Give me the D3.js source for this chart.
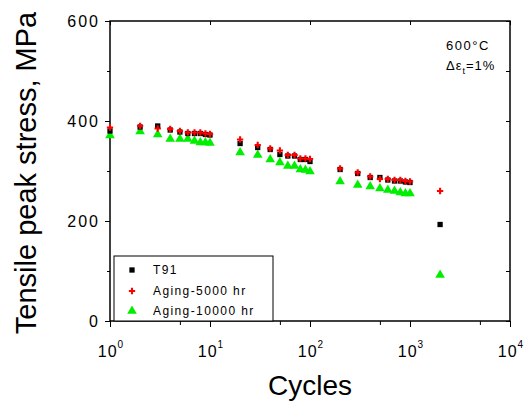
<!DOCTYPE html>
<html>
<head>
<meta charset="utf-8">
<script src="https://cdn.jsdelivr.net/npm/d3@7"></script>
<style>
  body { margin: 0; background: #fff; }
  svg { display: block; }
  text { font-family: "Liberation Sans", Arial, sans-serif; fill: #000; }
</style>
</head>
<body>
<div id="chart"></div>
<script>
// cycles at which peak stress was recorded
var cycles = [1, 2, 3, 4, 5, 6, 7, 8, 9, 10,
              20, 30, 40, 50, 60, 70, 80, 90, 100,
              200, 300, 400, 500, 600, 700, 800, 900, 1000, 2000];
var t91 = [380, 388, 390, 382, 378, 375, 375, 375, 373, 372,
           355, 347, 343, 333, 330, 330, 323, 323, 319,
           303, 295, 287, 287, 282, 280, 280, 278, 277, 193];
var aging5000 = [387, 390, 385, 384, 380, 377, 377, 377, 375, 374,
                 363, 352, 345, 341, 332, 332, 325, 325, 324,
                 305, 297, 289, 284, 284, 282, 282, 280, 279, 260];
var aging10000 = [371, 379, 373, 364, 364, 364, 360, 357, 357, 356,
                  337, 332, 323, 317, 310, 310, 303, 302, 299,
                  279, 272, 269, 265, 262, 260, 257, 255, 255, 92];
var seriesNames = ["T91", "Aging-5000 hr", "Aging-10000 hr"];
var yTicks = [0, 200, 400, 600];
var yMinor = [100, 300, 500];
var xTicks = [1, 10, 100, 1000, 10000];
var xMinor = [5, 50, 500, 5000];

var width = 528, height = 403;
var svg = d3.select("#chart").append("svg")
    .attr("width", width).attr("height", height);

var x = d3.scaleLog().domain([1, 10000]).range([110, 510]);
var y = d3.scaleLinear().domain([0, 600]).range([321, 21]);

// frame
svg.append("rect")
    .attr("x", x(1)).attr("y", y(600))
    .attr("width", x(10000) - x(1)).attr("height", y(0) - y(600))
    .attr("fill", "none").attr("stroke", "#000").attr("stroke-width", 1.5);

// left axis ticks (outward)
var yAxis = d3.axisLeft(y).tickValues(yTicks).tickSize(5).tickFormat("");
svg.append("g").attr("transform", "translate(" + x(1) + ",0)").call(yAxis)
    .call(g => g.select(".domain").remove());
svg.append("g").attr("transform", "translate(" + x(1) + ",0)")
    .call(d3.axisLeft(y).tickValues(yMinor).tickSize(3).tickFormat(""))
    .call(g => g.select(".domain").remove());
// right axis ticks (inward)
svg.append("g").attr("transform", "translate(" + x(10000) + ",0)")
    .call(d3.axisRight(y).tickValues(yTicks.concat(yMinor)).tickSize(-4).tickFormat(""))
    .call(g => g.select(".domain").remove());

// y labels
svg.append("g").selectAll("text").data(yTicks).join("text")
    .attr("x", 100).attr("y", d => y(d) + 6)
    .attr("text-anchor", "end")
    .style("font-size", "16px").style("letter-spacing", "2px")
    .text(d => d);

// bottom axis ticks (outward)
svg.append("g").attr("transform", "translate(0," + y(0) + ")")
    .call(d3.axisBottom(x).tickValues(xTicks).tickSize(6).tickFormat(""))
    .call(g => g.select(".domain").remove());
svg.append("g").attr("transform", "translate(0," + y(0) + ")")
    .call(d3.axisBottom(x).tickValues(xMinor).tickSize(4).tickFormat(""))
    .call(g => g.select(".domain").remove());
// top axis ticks (inward)
svg.append("g").attr("transform", "translate(0," + y(600) + ")")
    .call(d3.axisTop(x).tickValues(xTicks).tickSize(-4).tickFormat(""))
    .call(g => g.select(".domain").remove());

// x labels 10^n
var xl = svg.append("g").selectAll("text").data(xTicks).join("text")
    .attr("x", d => x(d) + 1).attr("y", 357)
    .attr("text-anchor", "middle")
    .style("font-size", "16px").style("letter-spacing", "1px");
xl.append("tspan").text("10");
xl.append("tspan").attr("dy", -9).style("font-size", "10px")
    .text(d => Math.round(Math.log10(d)));

// axis titles
svg.append("text")
    .attr("x", 310).attr("y", 395)
    .attr("text-anchor", "middle")
    .style("font-size", "28px")
    .text("Cycles");
svg.append("text")
    .attr("transform", "translate(36,173) rotate(-90)")
    .attr("text-anchor", "middle")
    .style("font-size", "29px")
    .text("Tensile peak stress, MPa");

// annotation
svg.append("text").attr("x", 446).attr("y", 50)
    .style("font-size", "13px").style("letter-spacing", "1.5px")
    .text("600°C");
var ann = svg.append("text").attr("x", 446).attr("y", 70)
    .style("font-size", "13px").style("letter-spacing", "1px");
ann.append("tspan").text("Δε");
ann.append("tspan").attr("dy", 4).style("font-size", "9px").text("t");
ann.append("tspan").attr("dy", -4).text("=1%");

// markers
var symSquare = d3.symbol().type(d3.symbolSquare).size(28);
var symCross = d3.symbol().type(d3.symbolCross).size(22);
var symTri = d3.symbol().type(d3.symbolTriangle).size(40);

svg.append("g").selectAll("path").data(aging10000).join("path")
    .attr("d", symTri)
    .attr("transform", (d, i) => "translate(" + x(cycles[i]) + "," + y(d) + ")")
    .attr("fill", "#00ee00");
svg.append("g").selectAll("path").data(t91).join("path")
    .attr("d", symSquare)
    .attr("transform", (d, i) => "translate(" + x(cycles[i]) + "," + y(d) + ")")
    .attr("fill", "#000");
svg.append("g").selectAll("path").data(aging5000).join("path")
    .attr("d", symCross)
    .attr("transform", (d, i) => "translate(" + x(cycles[i]) + "," + y(d) + ")")
    .attr("fill", "#ff0000");

// legend
var leg = svg.append("g");
leg.append("rect")
    .attr("x", 114).attr("y", 256)
    .attr("width", 159).attr("height", y(0) - 256)
    .attr("fill", "#fff").attr("stroke", "#000").attr("stroke-width", 1);
var legSyms = [symSquare, symCross, symTri];
var legColors = ["#000", "#ff0000", "#00ee00"];
var legRows = [270, 291, 311];
seriesNames.forEach(function(name, i) {
    leg.append("path").attr("d", legSyms[i])
        .attr("transform", "translate(132," + legRows[i] + ")")
        .attr("fill", legColors[i]);
    leg.append("text").attr("x", 153).attr("y", legRows[i] + 4)
        .style("font-size", "12px").style("letter-spacing", "1.4px")
        .text(name);
});
</script>
</body>
</html>
